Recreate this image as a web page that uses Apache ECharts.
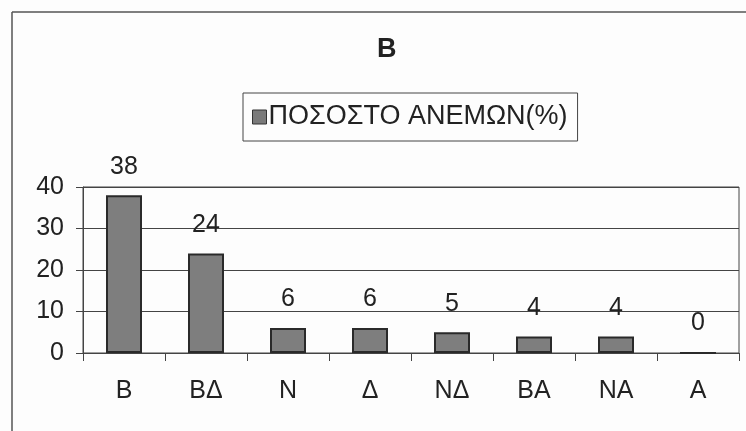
<!DOCTYPE html>
<html><head><meta charset="utf-8">
<script src="https://cdn.jsdelivr.net/npm/echarts@6/dist/echarts.min.js"></script>
<style>html,body{margin:0;padding:0;background:#fff}#c{width:746px;height:431px}</style>
</head><body><div id="c"></div>
<script>
const categories = ['B', 'BΔ', 'N', 'Δ', 'NΔ', 'BA', 'NA', 'A'];
const values = [38, 24, 6, 6, 5, 4, 4, 0];
const seriesName = 'ΠΟΣΟΣΤΟ ΑΝΕΜΩΝ(%)';
const titleText = 'B';
const yTicks = [0, 10, 20, 30, 40];

const FONT = '"Liberation Sans", Arial, sans-serif';
const chart = echarts.init(document.getElementById('c'), null, {renderer: 'canvas'});
chart.setOption({
  backgroundColor: '#fdfdfd',
  animation: false,
  title: {
    text: titleText, left: 372, top: 31,
    textStyle: {fontFamily: FONT, fontSize: 27, fontWeight: 'bold', color: '#222'}
  },
  legend: {
    data: [{name: seriesName, icon: 'rect'}], left: 243, top: 93,
    padding: [10, 10, 10, 9],
    borderColor: '#444', borderWidth: 1,
    itemWidth: 14, itemHeight: 14, itemGap: 4,
    textStyle: {fontFamily: FONT, fontSize: 27, lineHeight: 28, color: '#222', padding: [0, 0, 0, -3]},
    itemStyle: {color: '#7a7a7a', borderColor: '#333', borderWidth: 1}
  },
  grid: {left: 83, right: 7, top: 187, bottom: 78, show: true, borderColor: '#444', borderWidth: 1},
  xAxis: {
    type: 'category', data: categories,
    axisLine: {lineStyle: {color: '#444', width: 1}},
    axisTick: {show: true, length: 8, lineStyle: {color: '#444'}},
    axisLabel: {fontFamily: FONT, fontSize: 25, color: '#222', margin: 26}
  },
  yAxis: {
    type: 'value', min: yTicks[0], max: yTicks[yTicks.length - 1], interval: 10,
    axisLine: {show: true, lineStyle: {color: '#444'}},
    axisTick: {show: true, length: 7, lineStyle: {color: '#444'}},
    splitLine: {lineStyle: {color: '#444', width: 1}},
    axisLabel: {fontFamily: FONT, fontSize: 25, color: '#222', margin: 19}
  },
  series: [{
    name: seriesName, type: 'bar', data: values, barWidth: 36,
    itemStyle: {color: '#7e7e7e', borderColor: '#2a2a2a', borderWidth: 2},
    label: {show: true, position: 'top', distance: 16, fontFamily: FONT, fontSize: 25, color: '#222'}
  }],
  graphic: [
    {type: 'line', shape: {x1: 12, y1: 12, x2: 746, y2: 12}, style: {stroke: '#555', lineWidth: 1.5}},
    {type: 'line', shape: {x1: 12, y1: 12, x2: 12, y2: 431}, style: {stroke: '#555', lineWidth: 1.5}}
  ]
});
</script></body></html>
